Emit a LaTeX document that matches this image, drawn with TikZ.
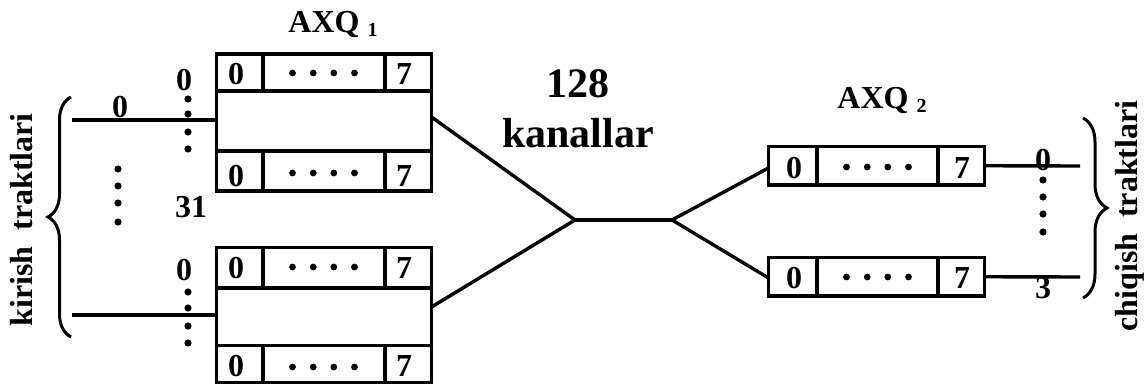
\documentclass[tikz,border=0pt]{standalone}
\usepackage{fontspec}
\setmainfont{Liberation Serif}
\usetikzlibrary{decorations.pathreplacing}
\begin{document}
\begin{tikzpicture}[x=0.5pt,y=-0.5pt,line width=1.7pt,
  lbl/.style={font=\fontsize{16}{16}\selectfont\bfseries,inner sep=0pt},
  big/.style={font=\fontsize{21}{21}\selectfont\bfseries,inner sep=0pt},
  blkA/.style={draw,inner sep=0pt,outer sep=0pt,minimum width=107.5pt},
  blkB/.style={draw,inner sep=0pt,outer sep=0pt,minimum width=108pt,minimum height=19.25pt},
  wire/.style={line width=1.7pt},
  brc/.style={decorate,decoration={brace,amplitude=#1},line width=1.5pt}]
\useasboundingbox (0,0) rectangle (1144,385);

% helpers
\newcommand{\fourdots}[2]{%
  \foreach \dx in {-31,-10.3,10.3,31} {\fill (#1+\dx,#2) circle[radius=1.7pt];}}
\newcommand{\coldots}[5]{%
  \foreach \yy in {#2,#3,#4,#5} {\fill (#1,\yy) circle[radius=1.8pt];}}

% ---------- AXQ 1 blocks ----------
\node[blkA,minimum height=68.5pt] (A1) at (324,122.5) {};
\node[blkA,minimum height=67.5pt] (A2) at (324,315) {};
\draw (216.5,91)--(431.5,91) (216.5,151)--(431.5,151)
      (263,54)--(263,91) (385,54)--(385,91)
      (263,151)--(263,191) (385,151)--(385,191);
\draw (216.5,288)--(431.5,288) (216.5,345.5)--(431.5,345.5)
      (263,247.5)--(263,288) (385,247.5)--(385,288)
      (263,345.5)--(263,382.5) (385,345.5)--(385,382.5);
\node[lbl] (a1l) at (236,74) {0};
\node[lbl] (a1r) at (404,74) {7};
\fourdots{323.5}{73}
\node[lbl] (a1bl) at (236,176) {0};
\node[lbl] (a1br) at (404,176) {7};
\fourdots{323.5}{173}
\node[lbl] (a2l) at (236,268) {0};
\node[lbl] (a2r) at (404,268) {7};
\fourdots{323.5}{267}
\node[lbl] (a2bl) at (236,366) {0};
\node[lbl] (a2br) at (404,366) {7};
\fourdots{323.5}{367}
\node[lbl] (t1) at (333,25) {AXQ \raisebox{-1.6pt}{\fontsize{10}{10}\selectfont 1}};

% ---------- AXQ 2 blocks ----------
\node[blkB] (B1) at (876.5,165.75) {};
\node[blkB] (B2) at (876.5,276.75) {};
\draw (817,146.5)--(817,185) (938,146.5)--(938,185)
      (817,257.5)--(817,296) (938,257.5)--(938,296);
\node[lbl] (b1l) at (794,168) {0};
\node[lbl] (b1r) at (962,168) {7};
\fourdots{877.5}{167}
\node[lbl] (b2l) at (794,278) {0};
\node[lbl] (b2r) at (962,278) {7};
\fourdots{877.5}{277}
\node[lbl] (t2) at (882,101) {AXQ \raisebox{-1.6pt}{\fontsize{10}{10}\selectfont 2}};

% ---------- inputs ----------
\coordinate (in1) at (72,120);
\coordinate (in2) at (72,315);
\draw[wire] (in1) -- ([yshift=1.25pt]A1.west);
\draw[wire] (in2) -- (A2.west);
\node[lbl] (z1) at (120,107) {0};
\node[lbl] (z2) at (184,80) {0};
\node[lbl] (z3) at (184,270) {0};
\node[lbl] (n31) at (191,207) {31};
\coldots{188}{99}{114}{132}{149}
\coldots{188}{292}{308}{326}{343}
\coldots{118}{169}{186}{203}{222}
\coordinate (lb1) at (71,337);
\coordinate (lb2) at (71,97);
\draw[brc=11.5pt] (lb1) -- (lb2);
\node[lbl,rotate=90] (kir) at (22,220) {kirish\ \ traktlari};

% ---------- middle ----------
\coordinate (j1) at (575,220);
\coordinate (j2) at (672,220);
\draw[wire] ([yshift=2.75pt]A1.east) -- (j1);
\draw[wire] ([yshift=4pt]A2.east) -- (j1);
\draw[wire] (j1) -- (j2);
\draw[wire] (j2) -- ([yshift=-1.1pt]B1.west);
\draw[wire] (j2) -- ([yshift=-0.6pt]B2.west);
\node[big] (n128) at (578,84) {128};
\node[big] (kan) at (578,133) {kanallar};

% ---------- outputs ----------
\coordinate (out1) at (1080,166);
\coordinate (out2) at (1080,277);
\draw[wire] (B1.east) -- (out1);
\draw[wire] (B2.east) -- (out2);
\node[lbl] (o0) at (1043,160) {0};
\node[lbl] (o3) at (1043,288) {3};
\coldots{1043}{180}{197}{214}{232}
\coordinate (rb1) at (1083,118);
\coordinate (rb2) at (1083,298);
\draw[brc=12pt] (rb1) -- (rb2);
\node[lbl,rotate=90] (chq) at (1130,216) {chiqish\ \ traktlari};
\end{tikzpicture}
\end{document}
